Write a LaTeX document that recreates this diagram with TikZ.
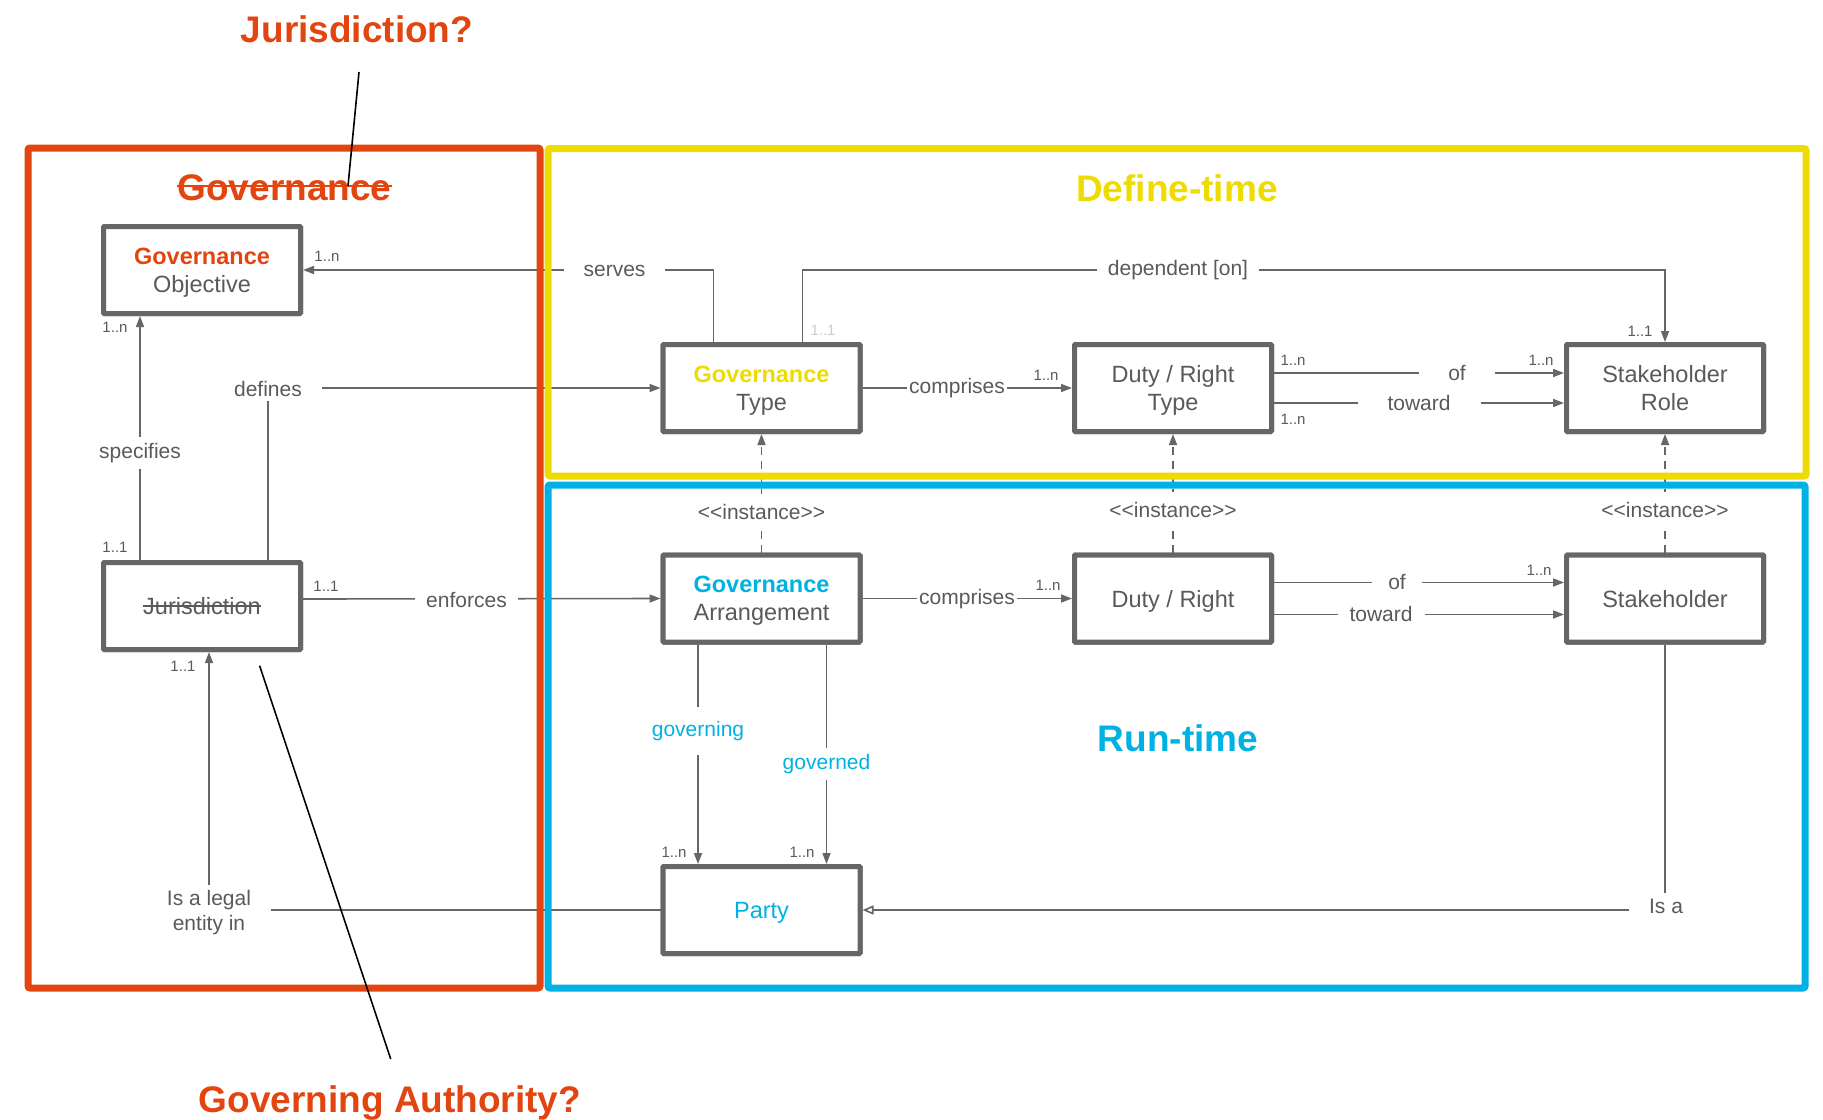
\documentclass[tikz,border=0pt]{standalone}
\usepackage{fontspec}
\setmainfont{Liberation Sans}
\usetikzlibrary{arrows.meta}
\definecolor{cred}{HTML}{E2450F}
\definecolor{cyel}{HTML}{EEDC00}
\definecolor{cblue}{HTML}{00B2E3}
\definecolor{cgray}{HTML}{666666}
\definecolor{ctext}{HTML}{5A5A5A}
\definecolor{cfaint}{HTML}{CCCCCC}
\newcommand{\inst}{{<}{<}instance{>}{>}}
\begin{document}
\begin{tikzpicture}[x=0.5pt,y=-0.5pt,
  nodefont/.style={font=\fontsize{11.75}{14}\selectfont},
  box/.style={draw=cgray, line width=2.5pt, fill=white, rounded corners=0.5pt,
    minimum width=98.5pt, minimum height=43.5pt, inner sep=0pt, align=center,
    text=ctext, text depth=0pt, nodefont},
  conn/.style={draw=cgray, line width=0.8pt},
  arr/.style={conn, -{Triangle[length=5.5pt,width=4pt]}},
  openarr/.style={conn, -{Triangle[open,length=5.5pt,width=4.5pt]}},
  inst/.style={arr, dash pattern=on 4pt off 3pt},
  lbl/.style={fill=white, text=ctext, font=\fontsize{10.5}{12.5}\selectfont,
    inner xsep=10pt, inner ysep=2pt, align=center},
  mult/.style={text=ctext, font=\fontsize{7.5}{8}\selectfont, inner sep=0pt},
  bigtitle/.style={font=\fontsize{18.5}{22}\selectfont\bfseries, inner sep=0pt, text depth=0pt},
  frame/.style={line width=3.5pt, rounded corners=1pt},
  note/.style={draw=black, line width=0.8pt}
]
\useasboundingbox[fill=white] (0,0) rectangle (1823,1119);

% ---------- boxes (placed first for anchors; redrawn on top later) ----------
\node[box] (gobj)   at (202,270)    {{\color{cred}\bfseries Governance}\\Objective};
\node[box] (jur)    at (202,606)    {};
\node[box] (gtype)  at (761.5,388)  {{\color{cyel}\bfseries Governance}\\Type};
\node[box] (drtype) at (1173,388)   {Duty / Right\\Type};
\node[box] (srole)  at (1665,388)   {Stakeholder\\Role};
\node[box] (garr)   at (761.5,598.5){{\color{cblue}\bfseries Governance}\\Arrangement};
\node[box] (dr)     at (1173,598.5) {Duty / Right};
\node[box] (sh)     at (1665,598.5) {Stakeholder};
\node[box] (party)  at (761.5,910)  {\color{cblue}Party};

% ---------- connectors ----------
\draw[arr] ([xshift=-24pt]gtype.north) |- (gobj.east);
\draw[arr] ([xshift=20.5pt]gtype.north) -- ++(0,-72) -| (srole.north);
\draw[arr] ([xshift=33pt]jur.north) |- (gtype.west);
\draw[arr] ([xshift=-31pt]jur.north) -- ([xshift=-31pt]gobj.south);
\draw[arr] ([yshift=3.5pt]jur.east) -- (garr.west);
\draw[arr] (gtype.east) -- (drtype.west);
\draw[arr] (garr.east) -- (dr.west);
\draw[arr] ([yshift=7.5pt]drtype.east) -- ([yshift=7.5pt]srole.west);
\draw[arr] ([yshift=-7.5pt]drtype.east) -- ([yshift=-7.5pt]srole.west);
\draw[arr] ([yshift=8pt]dr.east) -- ([yshift=8pt]sh.west);
\draw[arr] ([yshift=-8pt]dr.east) -- ([yshift=-8pt]sh.west);
\draw[inst] (garr.north) -- (gtype.south);
\draw[inst] (dr.north) -- (drtype.south);
\draw[inst] (sh.north) -- (srole.south);
\draw[arr] ([xshift=-31.75pt]garr.south) -- ([xshift=-31.75pt]party.north);
\draw[arr] ([xshift=32.5pt]garr.south) -- ([xshift=32.5pt]party.north);
\draw[openarr] (sh.south) |- (party.east);
\draw[arr] (party.west) -| ([xshift=3.5pt]jur.south);

% ---------- frames ----------
\draw[frame, draw=cred] (28,148) rectangle (540,988);
\draw[frame, draw=cyel] (548,148.5) rectangle (1806,476);
\draw[frame, draw=cblue] (548,485) rectangle (1805,988);

% ---------- boxes on top ----------
\node[box] at (gobj)   {{\color{cred}\bfseries Governance}\\Objective};
\node[box] at (jur)    {};
\node[box] at (gtype)  {{\color{cyel}\bfseries Governance}\\Type};
\node[box] at (drtype) {Duty / Right\\Type};
\node[box] at (srole)  {Stakeholder\\Role};
\node[box] at (garr)   {{\color{cblue}\bfseries Governance}\\Arrangement};
\node[box] at (dr)     {Duty / Right};
\node[box] at (sh)     {Stakeholder};
\node[box] at (party)  {\color{cblue}Party};
\node[inner sep=0pt, text=ctext, nodefont] (jurtxt) at (jur) {Jurisdiction};
\draw[ctext, line width=0.7pt] (jurtxt.west) -- (jurtxt.east);

% ---------- connector labels ----------
\node[lbl] (lserves) at (614.5,271) {serves};
\node[lbl, inner xsep=5.5pt] (ldep) at (1178,270) {dependent [on]};
\node[lbl] (ldef) at (268,389) {defines};
\node[lbl, inner ysep=3pt] (lspec) at (140,453) {specifies};
\node[lbl, inner xsep=5.5pt] (lenf) at (466.5,600) {enforces};
\node[lbl, inner xsep=1pt] (lcomp1) at (957,388) {comprises};
\node[lbl, inner xsep=1pt] (lcomp2) at (967,599) {comprises};
\node[lbl, inner xsep=14.5pt] (lof1) at (1457,373) {of};
\node[lbl, inner xsep=15pt] (ltow1) at (1419,403) {toward};
\node[lbl, inner xsep=8pt] (lof2) at (1397,582) {of};
\node[lbl, inner xsep=6pt] (ltow2) at (1381,614) {toward};
\node[lbl, inner ysep=5pt] (linst1) at (761.5,512) {\inst};
\node[lbl, inner ysep=5pt] (linst2) at (1173,510) {\inst};
\node[lbl, inner ysep=5pt] (linst3) at (1665,510) {\inst};
\node[lbl, text=cblue, inner ysep=7pt] (lgoving) at (698,731) {governing};
\node[lbl, text=cblue, inner ysep=3pt] (lgoved) at (826.5,764) {governed};
\node[lbl, inner ysep=3pt] (lisa) at (1666,906) {Is a};
\node[lbl, inner ysep=3pt] (llegal) at (209,913) {Is a legal\\entity in};

% ---------- multiplicities ----------
\node[mult] (m1) at (327,256) {1..n};
\node[mult] (m2) at (115,327) {1..n};
\node[mult] (m3) at (115,547) {1..1};
\node[mult] (m4) at (326,586) {1..1};
\node[mult] (m5) at (183,666) {1..1};
\node[mult, text=cfaint] (m6) at (823,330) {1..1};
\node[mult] (m7) at (1640,331) {1..1};
\node[mult] (m8) at (1046,375) {1..n};
\node[mult] (m9) at (1293,360) {1..n};
\node[mult] (m10) at (1541,360) {1..n};
\node[mult] (m11) at (1293,419) {1..n};
\node[mult] (m12) at (1048,585) {1..n};
\node[mult] (m13) at (1539,570) {1..n};
\node[mult] (m14) at (674,852) {1..n};
\node[mult] (m15) at (802,852) {1..n};

% ---------- titles ----------
\node[bigtitle, text=cred] (tjq) at (357,29) {Jurisdiction?};
\node[bigtitle, text=cred] (tgov) at (284.5,188) {Governance};
\draw[cred, line width=1.3pt] ([yshift=1pt]tgov.west) -- ([yshift=1pt]tgov.east);
\node[bigtitle, text=cyel] (tdef) at (1177,188.5) {Define-time};
\node[bigtitle, text=cblue] (trun) at (1178,738.5) {Run-time};
\node[bigtitle, text=cred] (tga) at (390,1099) {Governing Authority?};

% ---------- annotation lines ----------
\coordinate (jqa) at (359,72);
\coordinate (jqb) at (348,186);
\draw[note] (jqa) -- (jqb);
\coordinate (gaa) at (259.6,665.7);
\coordinate (gab) at (390.7,1059);
\draw[note] (gaa) -- (gab);
\end{tikzpicture}
\end{document}
